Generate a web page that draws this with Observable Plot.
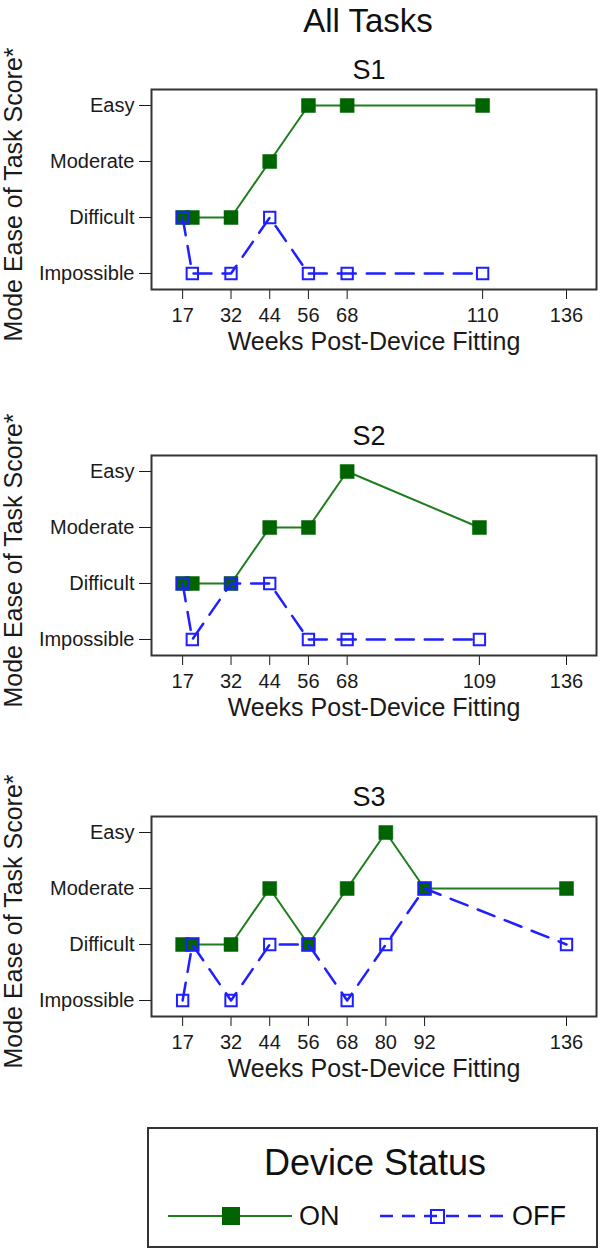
<!DOCTYPE html>
<html>
<head>
<meta charset="utf-8">
<script src="https://cdn.jsdelivr.net/npm/d3@7"></script>
<script src="https://cdn.jsdelivr.net/npm/@observablehq/plot@0.6"></script>
<style>
  body { margin: 0; background: white; }
  #wrap { position: relative; width: 600px; height: 1249px; font-family: "Liberation Sans", Arial, sans-serif; }
  .abs { position: absolute; left: 0; }
</style>
</head>
<body>
<div id="wrap"></div>
<script>
// ---- data ----
const levels = ["Impossible", "Difficult", "Moderate", "Easy"];
const chartTitle = "All Tasks";
const xLabel = "Weeks Post-Device Fitting";
const yLabel = "Mode Ease of Task Score*";
const legendTitle = "Device Status";
const seriesNames = ["ON", "OFF"];

const s1Ticks = [17, 32, 44, 56, 68, 110, 136];
const s1OnWeeks = [17, 20, 32, 44, 56, 68, 110];
const s1OnScores = ["Difficult", "Difficult", "Difficult", "Moderate", "Easy", "Easy", "Easy"];
const s1OffWeeks = [17, 20, 32, 44, 56, 68, 110];
const s1OffScores = ["Difficult", "Impossible", "Impossible", "Difficult", "Impossible", "Impossible", "Impossible"];

const s2Ticks = [17, 32, 44, 56, 68, 109, 136];
const s2OnWeeks = [17, 20, 32, 44, 56, 68, 109];
const s2OnScores = ["Difficult", "Difficult", "Difficult", "Moderate", "Moderate", "Easy", "Moderate"];
const s2OffWeeks = [17, 20, 32, 44, 56, 68, 109];
const s2OffScores = ["Difficult", "Impossible", "Difficult", "Difficult", "Impossible", "Impossible", "Impossible"];

const s3Ticks = [17, 32, 44, 56, 68, 80, 92, 136];
const s3OnWeeks = [17, 20, 32, 44, 56, 68, 80, 92, 136];
const s3OnScores = ["Difficult", "Difficult", "Difficult", "Moderate", "Difficult", "Moderate", "Easy", "Moderate", "Moderate"];
const s3OffWeeks = [17, 20, 32, 44, 56, 68, 80, 92, 136];
const s3OffScores = ["Impossible", "Difficult", "Impossible", "Difficult", "Difficult", "Impossible", "Difficult", "Moderate", "Difficult"];

const panels = [
  {name: "S1", ticks: s1Ticks, onW: s1OnWeeks, onS: s1OnScores, offW: s1OffWeeks, offS: s1OffScores, top: 39},
  {name: "S2", ticks: s2Ticks, onW: s2OnWeeks, onS: s2OnScores, offW: s2OffWeeks, offS: s2OffScores, top: 405},
  {name: "S3", ticks: s3Ticks, onW: s3OnWeeks, onS: s3OnScores, offW: s3OffWeeks, offS: s3OffScores, top: 766}
];

// ---- styles ----
const greenLine = "#1e7d1e";
const greenFill = "#006400";
const blue = "#1f1fff";
const font = "'Liberation Sans', Arial, sans-serif";

const wrap = document.getElementById("wrap");

function toRows(weeks, scores) {
  return weeks.map((w, i) => ({week: w, score: levels.indexOf(scores[i]) + 1}));
}

// Title
const ns = "http://www.w3.org/2000/svg";
const titleSvg = document.createElementNS(ns, "svg");
titleSvg.setAttribute("width", 600);
titleSvg.setAttribute("height", 42);
titleSvg.setAttribute("class", "abs");
titleSvg.style.top = "0px";
titleSvg.innerHTML = `<text x="368" y="32" text-anchor="middle" font-family="${font}" font-size="33" fill="#111">${chartTitle}</text>`;
wrap.appendChild(titleSvg);

for (const p of panels) {
  const on = toRows(p.onW, p.onS);
  const off = toRows(p.offW, p.offS);
  const chart = Plot.plot({
    width: 600,
    height: 320,
    marginLeft: 151,
    marginRight: 4,
    marginTop: 50,
    marginBottom: 70,
    style: {fontFamily: font, fontSize: "20px", color: "#1a1a1a", background: "transparent", overflow: "visible"},
    x: {domain: [7.35, 145.3], ticks: p.ticks, tickFormat: d => String(d), tickSize: 10, tickPadding: 8, label: null},
    y: {domain: [0.714, 4.286], ticks: [1, 2, 3, 4], tickFormat: d => levels[d - 1], tickSize: 12, tickPadding: 5, label: null},
    marks: [
      Plot.frame({stroke: "#333", strokeWidth: 2}),
      Plot.line(on, {x: "week", y: "score", stroke: greenLine, strokeWidth: 2}),
      Plot.dot(on, {x: "week", y: "score", symbol: "square", r: 7.9, fill: greenFill, stroke: greenFill, strokeWidth: 0.5}),
      Plot.line(off, {x: "week", y: "score", stroke: blue, strokeWidth: 2.5, strokeDasharray: "18,11"}),
      Plot.dot(off, {x: "week", y: "score", symbol: "square", r: 6.4, fill: "none", stroke: blue, strokeWidth: 2}),
      Plot.text([p.name], {text: d => d, frameAnchor: "top", textAnchor: "middle", lineAnchor: "middle", dx: -5, dy: -19, fontSize: 27, fill: "#111"}),
      Plot.text([xLabel], {text: d => d, frameAnchor: "bottom", textAnchor: "middle", lineAnchor: "middle", dy: 52, fontSize: 25, fill: "#1a1a1a"}),
      Plot.text([yLabel], {text: d => d, frameAnchor: "left", textAnchor: "middle", lineAnchor: "middle", dx: -138, dy: 5, rotate: -90, fontSize: 25, fill: "#1a1a1a"})
    ]
  });
  chart.classList.add("abs");
  chart.style.position = "absolute";
  chart.style.top = p.top + "px";
  wrap.appendChild(chart);
}

// Legend
const legend = document.createElementNS(ns, "svg");
legend.setAttribute("width", 451);
legend.setAttribute("height", 121);
legend.style.position = "absolute";
legend.style.left = "147px";
legend.style.top = "1127px";
legend.innerHTML = `
  <rect x="1" y="1" width="449" height="119" fill="white" stroke="#333" stroke-width="2"/>
  <text x="228" y="48" text-anchor="middle" font-family="${font}" font-size="36" fill="#111">${legendTitle}</text>
  <line x1="21" y1="89" x2="145" y2="89" stroke="${greenLine}" stroke-width="2"/>
  <rect x="75" y="80" width="18" height="18" fill="${greenFill}"/>
  <text x="152" y="98" font-family="${font}" font-size="27" fill="#111">${seriesNames[0]}</text>
  <line x1="233" y1="89" x2="356" y2="89" stroke="${blue}" stroke-width="2.5" stroke-dasharray="13,9"/>
  <rect x="284" y="83" width="13" height="13" fill="none" stroke="${blue}" stroke-width="2"/>
  <text x="365" y="98" font-family="${font}" font-size="27" fill="#111">${seriesNames[1]}</text>
`;
wrap.appendChild(legend);
</script>
</body>
</html>
